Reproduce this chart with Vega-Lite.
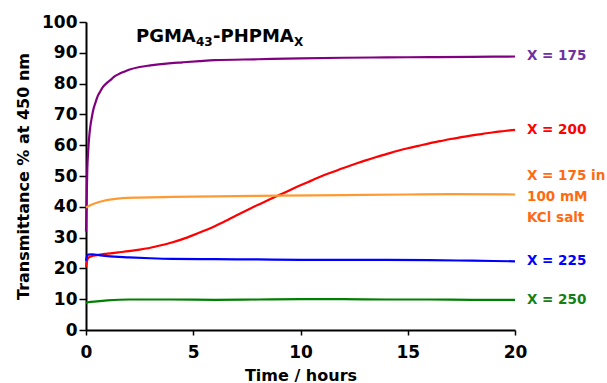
{
  "$schema": "https://vega.github.io/schema/vega-lite/v6.json",
  "autosize": "none",
  "width": 429,
  "height": 308,
  "padding": {"left": 86, "top": 22, "right": 92, "bottom": 53},
  "background": "white",
  "config": {
    "view": {"stroke": null},
    "font": "DejaVu Sans",
    "axis": {
      "grid": false,
      "domainColor": "black",
      "domainWidth": 2,
      "tickColor": "black",
      "tickWidth": 1.5,
      "labelFont": "DejaVu Sans",
      "labelFontWeight": "bold",
      "labelFontSize": 17,
      "labelColor": "black",
      "labelOverlap": false,
      "labelFlush": false,
      "titleFont": "DejaVu Sans",
      "titleFontWeight": "bold",
      "titleFontSize": 16,
      "titleColor": "black"
    },
    "axisX": {"tickSize": 5, "labelPadding": 9, "titlePadding": 7},
    "axisY": {"tickSize": 7, "labelPadding": 2, "titlePadding": 10}
  },
  "datasets": {
    "curves": [
      {"series": "X = 175", "t": 0, "v": 32}, {"series": "X = 175", "t": 0.03, "v": 42}, {"series": "X = 175", "t": 0.06, "v": 52}, {"series": "X = 175", "t": 0.1, "v": 58}, {"series": "X = 175", "t": 0.14, "v": 62}, {"series": "X = 175", "t": 0.2, "v": 66}, {"series": "X = 175", "t": 0.27, "v": 69}, {"series": "X = 175", "t": 0.34, "v": 71.5}, {"series": "X = 175", "t": 0.45, "v": 74}, {"series": "X = 175", "t": 0.55, "v": 76}, {"series": "X = 175", "t": 0.65, "v": 77.3}, {"series": "X = 175", "t": 0.8, "v": 79}, {"series": "X = 175", "t": 1, "v": 80.4}, {"series": "X = 175", "t": 1.15, "v": 81.2}, {"series": "X = 175", "t": 1.3, "v": 82.2}, {"series": "X = 175", "t": 1.5, "v": 83}, {"series": "X = 175", "t": 1.75, "v": 83.8}, {"series": "X = 175", "t": 2, "v": 84.5}, {"series": "X = 175", "t": 2.5, "v": 85.4}, {"series": "X = 175", "t": 3, "v": 85.9}, {"series": "X = 175", "t": 3.75, "v": 86.5}, {"series": "X = 175", "t": 4.5, "v": 86.9}, {"series": "X = 175", "t": 5.3, "v": 87.3}, {"series": "X = 175", "t": 6, "v": 87.6}, {"series": "X = 175", "t": 8, "v": 87.9}, {"series": "X = 175", "t": 10, "v": 88.2}, {"series": "X = 175", "t": 12, "v": 88.4}, {"series": "X = 175", "t": 14, "v": 88.5}, {"series": "X = 175", "t": 16, "v": 88.6}, {"series": "X = 175", "t": 18, "v": 88.7}, {"series": "X = 175", "t": 20, "v": 88.8},

      {"series": "X = 200", "t": 0, "v": 20.5}, {"series": "X = 200", "t": 0.05, "v": 22.5}, {"series": "X = 200", "t": 0.1, "v": 23.3}, {"series": "X = 200", "t": 0.2, "v": 23.8}, {"series": "X = 200", "t": 0.5, "v": 24.3}, {"series": "X = 200", "t": 1, "v": 24.8}, {"series": "X = 200", "t": 1.5, "v": 25.2}, {"series": "X = 200", "t": 2, "v": 25.6}, {"series": "X = 200", "t": 2.5, "v": 26.1}, {"series": "X = 200", "t": 3, "v": 26.7}, {"series": "X = 200", "t": 3.5, "v": 27.5}, {"series": "X = 200", "t": 4, "v": 28.4}, {"series": "X = 200", "t": 4.5, "v": 29.5}, {"series": "X = 200", "t": 5, "v": 30.8}, {"series": "X = 200", "t": 5.5, "v": 32.2}, {"series": "X = 200", "t": 6, "v": 33.7}, {"series": "X = 200", "t": 6.5, "v": 35.4}, {"series": "X = 200", "t": 7, "v": 37.2}, {"series": "X = 200", "t": 7.5, "v": 38.9}, {"series": "X = 200", "t": 8, "v": 40.6}, {"series": "X = 200", "t": 8.5, "v": 42.2}, {"series": "X = 200", "t": 9, "v": 43.8}, {"series": "X = 200", "t": 9.5, "v": 45.4}, {"series": "X = 200", "t": 10, "v": 47}, {"series": "X = 200", "t": 10.5, "v": 48.5}, {"series": "X = 200", "t": 11, "v": 50}, {"series": "X = 200", "t": 11.5, "v": 51.3}, {"series": "X = 200", "t": 12, "v": 52.6}, {"series": "X = 200", "t": 12.5, "v": 53.8}, {"series": "X = 200", "t": 13, "v": 55}, {"series": "X = 200", "t": 13.5, "v": 56.1}, {"series": "X = 200", "t": 14, "v": 57.1}, {"series": "X = 200", "t": 14.5, "v": 58.1}, {"series": "X = 200", "t": 15, "v": 59}, {"series": "X = 200", "t": 15.5, "v": 59.8}, {"series": "X = 200", "t": 16, "v": 60.6}, {"series": "X = 200", "t": 16.5, "v": 61.3}, {"series": "X = 200", "t": 17, "v": 62}, {"series": "X = 200", "t": 17.5, "v": 62.6}, {"series": "X = 200", "t": 18, "v": 63.2}, {"series": "X = 200", "t": 18.5, "v": 63.7}, {"series": "X = 200", "t": 19, "v": 64.2}, {"series": "X = 200", "t": 19.5, "v": 64.6}, {"series": "X = 200", "t": 20, "v": 65},

      {"series": "salt", "t": 0, "v": 39.8}, {"series": "salt", "t": 0.2, "v": 40.5}, {"series": "salt", "t": 0.5, "v": 41.3}, {"series": "salt", "t": 0.8, "v": 41.9}, {"series": "salt", "t": 1.2, "v": 42.4}, {"series": "salt", "t": 1.7, "v": 42.8}, {"series": "salt", "t": 2.5, "v": 43}, {"series": "salt", "t": 4, "v": 43.2}, {"series": "salt", "t": 6, "v": 43.4}, {"series": "salt", "t": 9, "v": 43.6}, {"series": "salt", "t": 12, "v": 43.8}, {"series": "salt", "t": 15, "v": 44}, {"series": "salt", "t": 17, "v": 44.1}, {"series": "salt", "t": 20, "v": 44},

      {"series": "X = 225", "t": 0, "v": 22.5}, {"series": "X = 225", "t": 0.05, "v": 24}, {"series": "X = 225", "t": 0.1, "v": 24.5}, {"series": "X = 225", "t": 0.3, "v": 24.6}, {"series": "X = 225", "t": 0.6, "v": 24.3}, {"series": "X = 225", "t": 1, "v": 24}, {"series": "X = 225", "t": 2, "v": 23.6}, {"series": "X = 225", "t": 3, "v": 23.3}, {"series": "X = 225", "t": 4, "v": 23.1}, {"series": "X = 225", "t": 6, "v": 23}, {"series": "X = 225", "t": 8, "v": 22.9}, {"series": "X = 225", "t": 10, "v": 22.8}, {"series": "X = 225", "t": 12, "v": 22.8}, {"series": "X = 225", "t": 14, "v": 22.8}, {"series": "X = 225", "t": 16, "v": 22.7}, {"series": "X = 225", "t": 18, "v": 22.5}, {"series": "X = 225", "t": 20, "v": 22.3},

      {"series": "X = 250", "t": 0, "v": 8.7}, {"series": "X = 250", "t": 0.1, "v": 9}, {"series": "X = 250", "t": 0.5, "v": 9.3}, {"series": "X = 250", "t": 1, "v": 9.6}, {"series": "X = 250", "t": 2, "v": 9.9}, {"series": "X = 250", "t": 4, "v": 9.9}, {"series": "X = 250", "t": 6, "v": 9.8}, {"series": "X = 250", "t": 8, "v": 9.9}, {"series": "X = 250", "t": 10, "v": 10}, {"series": "X = 250", "t": 12, "v": 10}, {"series": "X = 250", "t": 14, "v": 9.9}, {"series": "X = 250", "t": 16, "v": 9.9}, {"series": "X = 250", "t": 18, "v": 9.8}, {"series": "X = 250", "t": 20, "v": 9.8}
    ],
    "labels": [
      {"series": "X = 175", "t": 20, "v": 88.8, "label": "X = 175"},
      {"series": "X = 200", "t": 20, "v": 65, "label": "X = 200"},
      {"series": "X = 225", "t": 20, "v": 22.3, "label": "X = 225"},
      {"series": "X = 250", "t": 20, "v": 9.8, "label": "X = 250"}
    ],
    "saltlabel": [
      {"series": "salt", "t": 20, "v": 44, "label": "X = 175 in\n100 mM\nKCl salt"}
    ],
    "anno": [
      {"t": 2.33, "v": 93.5}
    ]
  },
  "encoding": {
    "x": {"field": "t", "type": "quantitative", "scale": {"domain": [0, 20], "nice": false},
          "axis": {"values": [0, 5, 10, 15, 20], "title": "Time / hours"}},
    "y": {"field": "v", "type": "quantitative", "scale": {"domain": [0, 100], "nice": false},
          "axis": {"values": [0, 10, 20, 30, 40, 50, 60, 70, 80, 90, 100], "title": "Transmittance % at 450 nm"}}
  },
  "layer": [
    {
      "data": {"name": "curves"},
      "mark": {"type": "line", "strokeWidth": 2.2, "interpolate": "monotone"},
      "encoding": {
        "color": {"field": "series", "type": "nominal", "legend": null,
                  "scale": {"domain": ["X = 175", "X = 200", "salt", "X = 225", "X = 250"], "range": ["#800080", "#FF0000", "#FF9A33", "#0000FF", "#008000"]}},
        "detail": {"field": "series"}
      }
    },
    {
      "data": {"name": "labels"},
      "mark": {"type": "text", "align": "left", "baseline": "middle", "dx": 12, "font": "DejaVu Sans", "fontWeight": "bold", "fontSize": 13.5},
      "encoding": {
        "text": {"field": "label"},
        "color": {"field": "series", "type": "nominal", "legend": null,
                  "scale": {"domain": ["X = 175", "X = 200", "salt", "X = 225", "X = 250"], "range": ["#7030A0", "#FF0000", "#FF6A10", "#0000FF", "#138013"]}}
      }
    },
    {
      "data": {"name": "saltlabel"},
      "mark": {"type": "text", "align": "left", "baseline": "middle", "dx": 12, "dy": -18, "font": "DejaVu Sans", "fontWeight": "bold", "fontSize": 13.5, "lineBreak": "\n", "lineHeight": 21, "color": "#FF6A10"},
      "encoding": {
        "text": {"field": "label"}
      }
    },
    {
      "data": {"name": "anno"},
      "mark": {"type": "text", "text": "PGMA", "align": "left", "baseline": "alphabetic", "font": "DejaVu Sans", "fontWeight": "bold", "fontSize": 18, "color": "black"}
    },
    {
      "data": {"name": "anno"},
      "mark": {"type": "text", "text": "43", "align": "left", "baseline": "alphabetic", "dx": 60, "dy": 4, "font": "DejaVu Sans", "fontWeight": "bold", "fontSize": 12, "color": "black"}
    },
    {
      "data": {"name": "anno"},
      "mark": {"type": "text", "text": "-PHPMA", "align": "left", "baseline": "alphabetic", "dx": 77, "font": "DejaVu Sans", "fontWeight": "bold", "fontSize": 18, "color": "black"}
    },
    {
      "data": {"name": "anno"},
      "mark": {"type": "text", "text": "X", "align": "left", "baseline": "alphabetic", "dx": 158, "dy": 4, "font": "DejaVu Sans", "fontWeight": "bold", "fontSize": 12, "color": "black"}
    }
  ],
  "resolve": {"scale": {"color": "independent"}}
}
